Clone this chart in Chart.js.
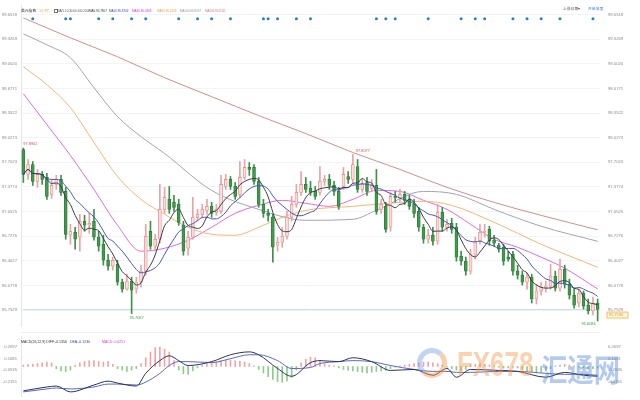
<!DOCTYPE html>
<html><head><meta charset="utf-8">
<script src="https://cdn.jsdelivr.net/npm/chart.js@4.4.0/dist/chart.umd.min.js"></script>
<style>
html,body{margin:0;padding:0;background:#fff;}
#wrap{position:relative;width:640px;height:400px;overflow:hidden;font-family:"Liberation Sans",Arial,sans-serif;}
#c1{position:absolute;left:0;top:0;}
#c2{position:absolute;left:0;top:330px;}
.t{position:absolute;white-space:nowrap;font-size:6px;line-height:7.2px;transform:scale(0.5);transform-origin:0 0;}
.t.cjk{font-size:7.6px;line-height:9px;font-family:"Noto Sans CJK SC","Liberation Sans",sans-serif;}
.t.m{font-size:7px;line-height:8.4px;}
.cb{position:absolute;left:54px;top:8.6px;width:2px;height:2px;border:0.5px solid #777;}
#sep{position:absolute;left:21px;top:332px;width:579px;height:1px;background:#eef0f3;}
.wm{position:absolute;white-space:nowrap;font-weight:bold;transform-origin:0 0;}
</style></head><body>
<div id="wrap">
<canvas id="c1" width="640" height="330"></canvas>
<canvas id="c2" width="640" height="70"></canvas>
<div id="sep"></div>
<div class="t cjk" style="left:21px;top:8px;color:#333">美元指数</div>
<div class="t cjk" style="left:39px;top:8px;color:#f0a040">1小时 ·</div>
<div class="cb"></div>
<div class="t" style="left:57px;top:8.5px;color:#555">MA(5,10,30,60,100,200)</div>
<div class="t" style="left:89px;top:8.5px;color:#333">MA5:95.7807</div>
<div class="t" style="left:108.5px;top:8.5px;color:#3344aa">MA10:95.8702</div>
<div class="t" style="left:132px;top:8.5px;color:#d040d0">MA30:96.0308</div>
<div class="t" style="left:157px;top:8.5px;color:#f0a050">MA60:96.2203</div>
<div class="t" style="left:180px;top:8.5px;color:#999">MA100:96.8597</div>
<div class="t" style="left:205px;top:8.5px;color:#d08080">MA200:96.8111</div>
<div class="t cjk" style="left:563px;top:5.5px;color:#555">上涨日期▾</div>
<div class="t cjk" style="left:588px;top:5.5px;color:#3a7fd0">开启深度</div>
<div class="t m" style="left:21px;top:340px;color:#333">MACD(26,12,9) DIFF:-0.1356</div>
<div class="t m" style="left:70px;top:340px;color:#3344aa">DEA:-0.1230</div>
<div class="t m" style="left:102px;top:340px;color:#d040d0">MACD:-0.0251</div>
<div style="position:absolute;left:417px;top:348px;width:20px;height:20px;border-radius:50%;border:5px solid rgba(120,160,220,0.45);border-right-color:rgba(243,150,70,0.45);border-bottom-color:rgba(243,150,70,0.45);"></div>
<div class="wm" style="left:457px;top:344px;font-size:35px;color:rgba(243,155,80,0.45);transform:scaleX(0.74);">FX678</div>
<div class="wm" style="left:541px;top:345px;font-size:31px;font-family:'Noto Sans CJK SC';color:rgba(90,140,215,0.45);transform:scaleX(0.85);">汇通网</div>
</div>
<script>
// ---- candle data (USD index, 1h) ----
const open = [97.871,97.542,97.673,97.450,97.542,97.502,97.279,97.410,97.476,97.318,
 96.739,96.779,96.713,96.924,96.871,96.924,96.713,96.621,96.410,96.332,
 96.358,96.121,96.029,96.134,96.029,96.121,96.266,96.792,96.595,96.687,
 97.081,97.213,97.174,97.147,96.871,96.568,96.713,96.976,97.016,97.068,
 97.121,97.042,97.055,97.384,97.476,97.384,97.279,97.502,97.634,97.634,
 97.450,97.147,97.029,96.976,96.608,96.647,96.726,96.976,97.147,97.305,
 97.410,97.358,97.318,97.305,97.450,97.476,97.397,97.318,97.384,97.515,
 97.476,97.647,97.344,97.436,97.358,97.397,97.081,97.121,96.845,97.252,
 97.239,97.279,97.213,97.147,97.055,96.845,96.687,96.739,96.660,97.042,
 96.845,96.897,96.845,96.463,96.397,96.266,96.476,96.660,96.779,96.818,
 96.674,96.608,96.581,96.450,96.489,96.266,96.213,96.121,96.187,95.898,
 96.003,96.055,96.068,96.200,96.042,96.292,96.095,95.950,95.845,95.976,
 95.818,95.740,95.845];
const close = [97.542,97.673,97.450,97.542,97.476,97.252,97.397,97.476,97.305,96.752,
 96.792,96.687,96.924,96.871,96.897,96.713,96.595,96.410,96.332,96.410,
 96.121,96.029,96.134,96.016,96.121,96.266,96.726,96.595,96.687,97.081,
 97.239,97.081,97.108,96.910,96.529,96.713,96.976,97.016,97.081,97.121,
 97.029,97.081,97.410,97.476,97.384,97.252,97.502,97.634,97.608,97.450,
 97.147,97.029,97.002,96.581,96.647,96.726,96.976,97.147,97.305,97.410,
 97.344,97.305,97.252,97.450,97.476,97.397,97.318,97.121,97.542,97.476,
 97.673,97.344,97.410,97.318,97.397,97.055,97.147,96.818,97.252,97.239,
 97.279,97.200,97.121,97.029,96.845,96.687,96.739,96.660,97.042,96.845,
 96.884,96.818,96.450,96.397,96.266,96.489,96.660,96.779,96.792,96.660,
 96.634,96.555,96.397,96.424,96.266,96.213,96.121,96.187,95.898,96.003,
 96.055,96.068,96.200,96.042,96.292,96.095,95.950,95.818,95.976,95.805,
 95.740,95.845,95.7596];
const high = [97.8902,97.739,97.713,97.608,97.581,97.555,97.476,97.529,97.529,97.371,
 96.884,96.845,97.016,97.002,97.029,97.081,96.792,96.739,96.489,96.450,
 96.410,96.161,96.226,96.187,96.187,96.345,96.884,96.924,96.752,97.410,
 97.371,97.384,97.266,97.213,96.924,96.792,97.239,97.081,97.147,97.213,
 97.174,97.147,97.529,97.542,97.515,97.436,97.713,97.739,97.700,97.673,
 97.502,97.213,97.081,97.016,96.713,96.845,97.055,97.252,97.410,97.581,
 97.502,97.450,97.384,97.647,97.529,97.542,97.450,97.371,97.634,97.581,
 97.8077,97.739,97.476,97.502,97.476,97.608,97.213,97.174,97.305,97.318,
 97.344,97.318,97.266,97.213,97.108,96.884,96.818,96.845,97.147,97.108,
 96.950,96.963,96.897,96.529,96.450,96.555,96.713,96.884,96.884,96.858,
 96.739,96.634,96.621,96.529,96.529,96.345,96.266,96.240,96.226,96.095,
 96.121,96.134,96.358,96.266,96.424,96.345,96.161,96.029,96.029,96.003,
 95.898,95.923,95.898];
const low = [97.436,97.476,97.397,97.371,97.410,97.213,97.226,97.344,97.266,96.687,
 96.621,96.555,96.529,96.792,96.766,96.674,96.529,96.345,96.279,96.279,
 96.082,95.989,96.016,95.7067,95.976,96.055,96.213,96.555,96.529,96.634,
 97.029,97.029,97.055,96.871,96.476,96.476,96.687,96.924,96.976,97.016,
 96.976,97.002,97.029,97.344,97.344,97.213,97.239,97.476,97.529,97.410,
 97.108,96.976,96.924,96.384,96.529,96.581,96.687,96.924,97.108,97.266,
 97.305,97.266,97.213,97.266,97.397,97.344,97.266,97.081,97.344,97.423,
 97.436,97.305,97.305,97.266,97.318,97.016,97.029,96.779,96.792,97.174,
 97.187,97.147,97.081,96.976,96.792,96.634,96.634,96.608,96.621,96.792,
 96.792,96.766,96.397,96.345,96.213,96.226,96.424,96.621,96.713,96.608,
 96.595,96.516,96.345,96.397,96.213,96.161,96.082,96.029,95.845,95.832,
 95.950,95.989,96.029,96.003,96.003,96.042,95.898,95.779,95.792,95.766,
 95.700,95.687,95.6084];

// long moving averages (index, value)
const ma30Idx = [0,5,10,15,20,25,30,35,40,45,50,55,60,65,70,75,80,85,90,95,100,105,110,115,122];
const ma30Val = [98.607,98.199,97.792,97.344,96.871,96.529,96.568,96.674,96.845,97.029,97.134,97.200,97.160,97.121,97.213,97.331,97.318,97.200,97.081,96.884,96.687,96.581,96.450,96.305,96.031];
const ma60Idx = [0,5,10,15,20,25,30,35,40,45,50,55,60,70,80,85,91,100,110,122];
const ma60Val = [98.962,98.726,98.423,97.963,97.515,97.213,97.016,96.845,96.752,96.739,96.845,96.976,97.068,97.121,97.173,97.187,97.134,96.910,96.621,96.318];
const ma100Idx = [0,5,10,15,20,25,30,40,50,60,70,75,85,92,100,110,122];
const ma100Val = [99.396,99.252,99.081,98.686,98.305,98.041,97.818,97.331,97.081,96.937,96.950,97.068,97.318,97.279,97.081,96.858,96.660];
const ma200Idx = [0,10,20,30,40,50,60,70,80,90,100,110,122];
const ma200Val = [99.607,99.344,99.094,98.818,98.568,98.318,98.081,97.831,97.608,97.371,97.173,97.002,96.811];

// news markers
const eventIdx = [2,9,10,16,19,23,26,33,37,40,44,51,52,54,58,61,75,77,79,86,93,96,98,104,107,110,114,121];
const eventLevel = 99.594;

// MACD
const macdIdx = [0,5,7,10,15,18,20,24,26,29,31,33,35,40,44,48,50,54,57,61,63,67,70,74,78,83,87,90,92,95,101,105,111,115,119,122];
const diffVal = [-0.338,-0.284,-0.271,-0.352,-0.257,-0.203,-0.230,-0.271,-0.095,0.081,0.148,0.081,0.013,0.067,0.162,0.202,0.162,-0.028,-0.136,0.053,0.081,0.067,0.121,0.067,-0.055,-0.041,-0.122,-0.028,-0.149,-0.041,-0.055,-0.068,-0.149,-0.082,-0.122,-0.1356];
const deaVal = [-0.352,-0.311,-0.298,-0.311,-0.284,-0.244,-0.244,-0.257,-0.217,-0.095,0.013,0.067,0.067,0.053,0.108,0.162,0.162,0.081,-0.028,-0.014,0.040,0.067,0.081,0.067,0.013,-0.041,-0.068,-0.068,-0.082,-0.082,-0.068,-0.068,-0.095,-0.109,-0.109,-0.1230];
const macdHist = [0.02,0.03,0.03,0.04,0.05,0.06,0.05,-0.03,-0.06,-0.07,-0.05,
 0.02,0.05,0.07,0.08,0.08,0.07,0.06,0.07,0.03,
 -0.03,-0.05,-0.07,-0.05,-0.03,0.04,
 0.12,0.2,0.26,0.27,0.24,0.2,0.08,-0.05,-0.1,-0.11,-0.06,-0.02,
 0.02,0.04,0.06,0.07,0.08,0.09,0.09,0.08,0.07,0.06,0.04,0.01,
 -0.04,-0.09,-0.14,-0.18,-0.21,-0.22,-0.2,-0.15,
 -0.05,0.05,0.1,0.13,0.12,0.08,0.04,0.02,0.01,
 -0.02,-0.04,-0.05,-0.06,-0.07,-0.08,-0.09,-0.08,-0.07,-0.06,-0.05,-0.03,
 -0.01,0.01,0.02,0.03,0.04,0.05,0.06,0.06,0.05,0.04,0.02,
 -0.01,-0.03,-0.05,-0.06,-0.04,
 0.02,0.03,0.04,0.03,0.02,0.01,-0.01,-0.02,-0.02,-0.01,
 -0.02,-0.04,-0.06,-0.08,-0.09,-0.08,-0.06,-0.03,
 0.01,0.02,0.03,0.02,0.01,-0.01,-0.02,-0.03,-0.03,-0.0251];

// axis ticks
const priceTicks = [99.6518,99.3269,99.0020,98.6771,98.3522,98.0273,97.7023,97.3774,97.0525,96.7276,96.4027,96.0778,95.7529];
const macdTicks = [0.2697,0.1081,-0.0535,-0.2151];
const lastPrice = 95.7596;

// ---- build ----
const n = close.length;
const categories = close.map((_, i) => String(i + 1));
function sparse(idx, vals){ const a = new Array(n).fill(null); idx.forEach((k, j) => { a[k] = vals[j]; }); return a; }
function movingAvg(p){ return close.map((_, i) => { const s = close.slice(Math.max(0, i - p + 1), i + 1); return s.reduce((a, b) => a + b, 0) / s.length; }); }
const up = i => close[i] >= open[i];

const lineDs = (label, data, color, order) => ({type:'line', label, data, borderColor:color, borderWidth:1, pointRadius:0, spanGaps:true, cubicInterpolationMode:'monotone', order});

const fontTick = {size:4.2, family:'"Liberation Sans", Arial, sans-serif'};
function yAxis(pos, ticks, min, max, width, showGrid){
  return {
    position: pos, min, max,
    afterBuildTicks: s => { s.ticks = ticks.map(v => ({value: v})); },
    afterFit: s => { s.width = width; s.paddingTop = 0; s.paddingBottom = 0; },
    ticks: {font: fontTick, color:'#8a8a8a', padding: pos === 'right' ? 8 : 4, callback: v => Number(v).toFixed(4), autoSkip:false},
    grid: {display: showGrid, color:'#f3f4f6', drawTicks:false},
    border: {display: pos === 'left', color:'#e3e6ea'}
  };
}

const annot = {
  id:'annot',
  afterDatasetsDraw(chart){
    const {ctx} = chart; const xs = chart.scales.x, ys = chart.scales.y;
    ctx.save();
    ctx.font = '3.9px "Liberation Sans", Arial, sans-serif';
    const marks = [
      {i:0, v:high[0], t:'97.8902', c:'#d9534f', dx:0, dy:-4, al:'left'},
      {i:23, v:low[23], t:'95.7067', c:'#3a9a4a', dx:-2, dy:4, al:'left'},
      {i:70, v:high[70], t:'97.8077', c:'#d9534f', dx:3, dy:-3, al:'left'},
      {i:122, v:low[122], t:'95.6084', c:'#3a9a4a', dx:-2, dy:3, al:'right'}
    ];
    marks.forEach(m => {
      const px = xs.getPixelForValue(m.i), py = ys.getPixelForValue(m.v);
      ctx.fillStyle = m.c; ctx.textAlign = m.al; ctx.textBaseline = 'middle';
      ctx.fillText(m.t, px + m.dx, py + m.dy);
    });
    // current price tag on the right axis
    const py = ys.getPixelForValue(lastPrice);
    ctx.strokeStyle = '#f0b040'; ctx.fillStyle = '#fff8e0'; ctx.lineWidth = 0.8;
    ctx.fillRect(607, py + 2.5, 21, 6); ctx.strokeRect(607, py + 2.5, 21, 6);
    ctx.fillStyle = '#e89a20'; ctx.textAlign = 'left';
    ctx.fillText(lastPrice.toFixed(4), 609, py + 5.6);
    ctx.restore();
  }
};

new Chart(document.getElementById('c1'), {
  type:'bar',
  data:{
    labels: categories,
    datasets:[
      lineDs('MA200', sparse(ma200Idx, ma200Val), '#cf8f8f', 9),
      lineDs('MA100', sparse(ma100Idx, ma100Val), '#a3a3b8', 9),
      lineDs('MA60', sparse(ma60Idx, ma60Val), '#f2b778', 9),
      lineDs('MA30', sparse(ma30Idx, ma30Val), '#dc6ddc', 9),
      {type:'line', label:'last', data: sparse([0, n - 1], [lastPrice, lastPrice]), borderColor:'#c7dcf2', borderWidth:1, pointRadius:0, spanGaps:true, order:10},
      {label:'wick', data: low.map((l, i) => [l, high[i]]), backgroundColor: c => up(c.dataIndex) ? '#eaa3a3' : '#3f8f4a', barThickness:1, grouped:false, order:6},
      {label:'body', data: open.map((o, i) => [o, close[i]]), backgroundColor: c => up(c.dataIndex) ? '#fadcdc' : '#3f9a4b', borderColor: c => up(c.dataIndex) ? '#e58e8e' : '#2e7d39', borderWidth:0.8, borderSkipped:false, barThickness:3, grouped:false, order:5},
      lineDs('MA10', movingAvg(10), '#4455bb', 3),
      lineDs('MA5', movingAvg(5), '#3a3a48', 2),
      {type:'line', label:'events', data: sparse(eventIdx, eventIdx.map(() => eventLevel)), showLine:false, pointRadius:1.5, pointBackgroundColor:'#2a7fc0', pointBorderWidth:0, order:1}
    ]
  },
  options:{
    responsive:false, animation:false, events:[],
    layout:{padding:{top:5, bottom:3, left:0, right:0}},
    plugins:{legend:{display:false}, tooltip:{enabled:false}},
    scales:{
      x:{display:false, offset:true},
      y: yAxis('right', priceTicks, 95.5424, 99.777, 40, true),
      yL: yAxis('left', priceTicks, 95.5424, 99.777, 21, false)
    }
  },
  plugins:[annot]
});

new Chart(document.getElementById('c2'), {
  type:'bar',
  data:{
    labels: categories,
    datasets:[
      lineDs('DIFF', sparse(macdIdx, diffVal), '#2b3355', 2),
      lineDs('DEA', sparse(macdIdx, deaVal), '#5a68c8', 3),
      {label:'MACD', data: macdHist, backgroundColor: c => macdHist[c.dataIndex] >= 0 ? '#efa5a5' : '#8ccb8c', barThickness:1, order:5}
    ]
  },
  options:{
    responsive:false, animation:false, events:[],
    layout:{padding:{top:6, bottom:4, left:0, right:0}},
    plugins:{legend:{display:false}, tooltip:{enabled:false}},
    scales:{
      x:{display:false, offset:true},
      y: yAxis('right', macdTicks, -0.409, 0.422, 40, false),
      yL: yAxis('left', macdTicks, -0.409, 0.422, 21, false)
    }
  }
});
</script>
</body></html>
